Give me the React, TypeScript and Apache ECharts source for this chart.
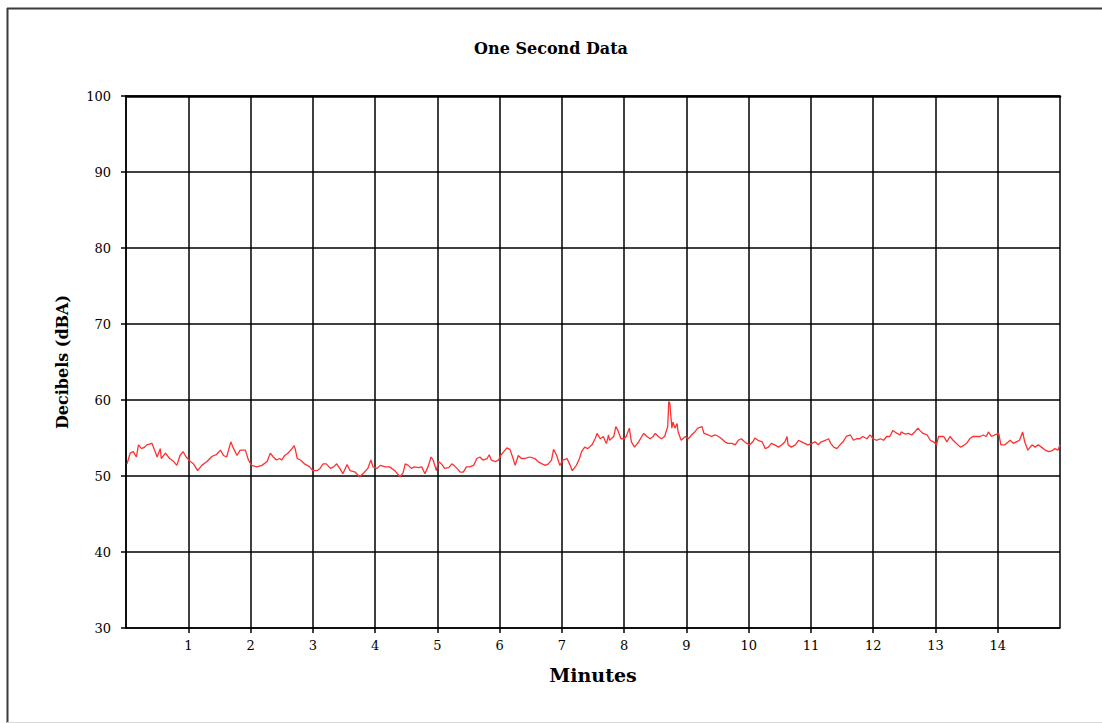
import React, { useEffect, useRef } from "react";
import * as echarts from "echarts";

// Time of each reading (seconds from start) and level (dBA)
const seconds: number[] = [
  1, 4, 7, 10, 12, 15, 18, 20, 25, 27, 30, 33, 34, 38, 42, 46, 49, 52, 55, 58, 62, 65, 69, 73, 78, 83, 87, 91, 94, 97,
  101, 103, 107, 110, 115, 118, 121, 126, 131, 136, 139, 142, 145, 148,
  150, 153, 156, 160, 162, 163, 165, 168, 172, 177, 180, 184, 187, 190, 193, 197, 200, 203, 206, 209, 213, 216, 221,
  225, 229, 233, 236, 238, 242, 245, 250, 254, 259, 264, 267, 269, 272, 275, 278, 282, 285, 288, 291, 294, 296,
  299, 301, 304, 307, 311, 314, 316, 319, 322, 325, 328, 331, 335, 338, 341, 344, 348, 350, 352, 356, 359, 361, 364,
  367, 370, 373, 375, 378, 381, 384, 389, 394, 397, 401, 404, 407, 410, 412, 415, 418, 421, 425, 428, 430, 434, 437,
  439, 442, 445,
  449, 452, 454, 457, 460, 462, 463, 465, 466, 470, 472, 474, 477, 480, 482, 485, 487, 490, 494, 497, 499, 502, 505,
  508, 510, 513, 516, 519, 522, 523, 524, 526, 527, 529, 531, 532, 535, 539, 542, 545, 548, 551, 555, 557, 561, 564,
  568, 571, 574, 577, 580, 584, 587, 590, 593, 596,
  598, 601, 604, 606, 609, 613, 616, 619, 622, 625, 629, 632, 635, 637, 638, 641, 645, 648, 651, 654, 657, 661, 664,
  667, 670, 674, 677, 679, 682, 685, 688, 691, 694, 698, 701, 704, 707, 710, 714, 717, 720, 723, 727, 730, 733, 736,
  739, 743, 746,
  747, 751, 754, 757, 760, 763, 765, 768, 772, 775, 778, 781, 783, 788, 791, 794, 797, 800, 804, 807, 810, 813, 816,
  820, 823, 826, 829, 831, 834, 837, 841, 843, 847, 852, 855, 858, 861, 864, 866, 869, 873, 876, 879, 882, 886, 889,
  892, 895, 898, 900,
];

const decibels: number[] = [
  51.6, 53.0, 53.2, 52.5, 54.1, 53.6, 53.8, 54.1, 54.3, 53.6, 52.5, 53.6, 52.3, 53.0, 52.3, 51.9, 51.4, 52.7, 53.2, 52.5,
  51.9, 51.6, 50.7, 51.4, 51.9, 52.6, 52.8, 53.4, 52.7, 52.5, 54.5, 53.8, 52.7, 53.4, 53.4, 52.1, 51.4, 51.2, 51.4, 51.9,
  53.0, 52.5, 52.1, 52.3,
  52.1, 52.7, 53.0, 53.6, 54.0, 53.6, 52.3, 52.1, 51.6, 51.2, 50.7, 50.7, 51.0, 51.6, 51.6, 51.0, 51.2, 51.6, 51.0, 50.3,
  51.5, 50.7, 50.5, 49.9, 50.4, 51.0, 52.1, 51.2, 51.0, 51.4, 51.2, 51.2, 50.7, 49.9, 50.4, 51.6, 51.4, 51.0, 51.2, 51.1,
  51.2, 50.3, 51.2, 52.5, 52.1,
  50.7, 51.9, 51.6, 51.0, 51.1, 51.6, 51.4, 51.0, 50.5, 50.5, 51.2, 51.2, 51.4, 52.3, 52.5, 52.1, 52.3, 52.8, 52.1, 51.9,
  52.1, 52.7, 53.2, 53.7, 53.5, 52.3, 51.4, 52.7, 52.3, 52.3, 52.5, 52.3, 51.9, 51.6, 51.4, 51.6, 52.1, 53.5, 52.7, 51.4,
  52.1, 52.3, 51.4, 50.7, 51.4, 52.3, 53.2, 53.8, 53.6,
  54.1, 54.9, 55.6, 54.9, 55.2, 54.5, 54.3, 55.4, 54.7, 55.2, 56.5, 56.0, 54.9, 54.9, 55.2, 56.3, 54.5, 53.8, 54.5, 55.2,
  55.6, 55.2, 54.9, 55.2, 55.6, 55.2, 54.9, 55.2, 56.5, 59.8, 59.6, 56.3, 57.1, 56.3, 56.9, 55.8, 54.7, 55.2, 54.9, 55.4,
  55.8, 56.3, 56.5, 55.6, 55.4, 55.2, 55.4, 55.2, 54.9, 54.5, 54.3, 54.3, 54.1, 54.7, 54.9, 54.5,
  54.3, 54.1, 54.5, 55.0, 54.7, 54.5, 53.6, 53.8, 54.3, 54.1, 53.8, 54.1, 54.5, 55.2, 54.1, 53.8, 54.1, 54.7, 54.5, 54.3,
  54.1, 54.3, 54.5, 54.1, 54.5, 54.7, 54.9, 54.3, 53.8, 53.6, 54.1, 54.5, 55.2, 55.4, 54.7, 54.9, 54.9, 55.2, 54.9, 55.4,
  54.9, 54.7, 54.9, 54.7, 55.2, 55.2, 56.0, 55.6, 55.4,
  55.8, 55.5, 55.6, 55.4, 55.8, 56.3, 56.0, 55.6, 55.4, 54.7, 54.5, 54.1, 55.2, 55.2, 54.5, 55.2, 54.7, 54.3, 53.8, 54.0,
  54.3, 54.9, 55.2, 55.2, 55.2, 55.4, 55.2, 55.8, 55.2, 55.4, 55.6, 54.1, 54.1, 54.7, 54.3, 54.5, 54.7, 55.8, 54.5, 53.4,
  54.1, 53.8, 54.1, 53.8, 53.4, 53.2, 53.3, 53.6, 53.4, 54.1,
];

const chartTitle = "One Second Data";
const xAxisTitle = "Minutes";
const yAxisTitle = "Decibels (dBA)";

export default function App() {
  const ref = useRef<HTMLDivElement>(null);

  useEffect(() => {
    if (!ref.current) return;
    const chart = echarts.init(ref.current, null, { renderer: "svg" });
    const points = seconds.map((s, i) => [s / 60, decibels[i]]);
    const serif = "DejaVu Serif";
    const gridW = 1.5;

    chart.setOption({
      animation: false,
      backgroundColor: "#ffffff",
      title: {
        text: chartTitle,
        left: "center",
        top: 40,
        padding: 0,
        textStyle: { fontFamily: serif, fontWeight: "bold", fontSize: 16, color: "#000" },
      },
      grid: { left: 126, right: 42, top: 96, bottom: 95, containLabel: false },
      graphic: [
        { type: "line", shape: { x1: 7, y1: 8.5, x2: 1102, y2: 8.5 }, style: { stroke: "#3a3a3a", lineWidth: 2 } },
        { type: "line", shape: { x1: 7.5, y1: 8, x2: 7.5, y2: 723 }, style: { stroke: "#3a3a3a", lineWidth: 2 } },
        { type: "line", shape: { x1: 7, y1: 722.5, x2: 1102, y2: 722.5 }, style: { stroke: "#d8d8d8", lineWidth: 1 } },
      ],
      xAxis: [
        {
          type: "value",
          min: 0,
          max: 15,
          interval: 1,
          name: xAxisTitle,
          nameLocation: "middle",
          nameGap: 37,
          nameTextStyle: { fontFamily: serif, fontWeight: "bold", fontSize: 19, color: "#000" },
          axisLine: { show: true, lineStyle: { color: "#000", width: gridW } },
          axisTick: { show: true, inside: false, length: 5, lineStyle: { color: "#000", width: gridW } },
          axisLabel: {
            show: true,
            margin: 11,
            fontFamily: serif,
            fontSize: 13,
            color: "#000",
            showMinLabel: false,
            showMaxLabel: false,
          },
          splitLine: { show: true, lineStyle: { color: "#000", width: gridW } },
        },
        {
          type: "value",
          position: "top",
          min: 0,
          max: 15,
          interval: 1,
          axisLine: { show: true, lineStyle: { color: "#000", width: 2.5 } },
          axisTick: { show: false },
          axisLabel: { show: false },
          splitLine: { show: false },
        },
      ],
      yAxis: {
        type: "value",
        min: 30,
        max: 100,
        interval: 10,
        name: yAxisTitle,
        nameLocation: "middle",
        nameGap: 56,
        nameTextStyle: { fontFamily: serif, fontWeight: "bold", fontSize: 16, color: "#000" },
        axisLine: { show: true, lineStyle: { color: "#000", width: gridW } },
        axisTick: { show: true, inside: false, length: 5, lineStyle: { color: "#000", width: gridW } },
        axisLabel: { show: true, margin: 15, fontFamily: serif, fontSize: 13, color: "#000" },
        splitLine: { show: true, lineStyle: { color: "#000", width: gridW } },
      },
      series: [
        {
          type: "line",
          xAxisIndex: 0,
          data: points,
          showSymbol: false,
          symbol: "none",
          lineStyle: { color: "#ff3030", width: 1.3 },
          z: 5,
        },
      ],
    });

    return () => chart.dispose();
  }, []);

  return (
    <div
      ref={ref}
      style={{ position: "absolute", left: 0, top: 0, width: 1102, height: 723 }}
    />
  );
}
